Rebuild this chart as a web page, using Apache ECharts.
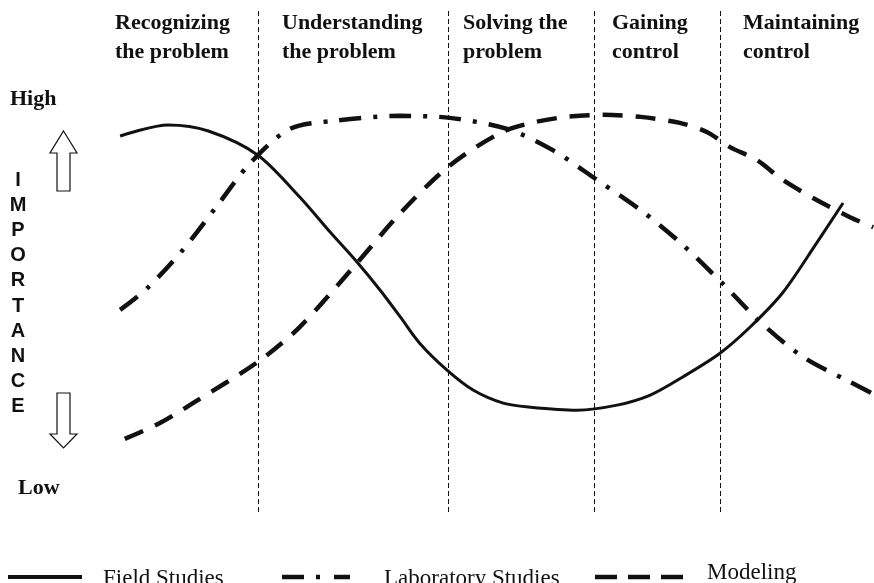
<!DOCTYPE html>
<html>
<head>
<meta charset="utf-8">
<script src="https://cdn.jsdelivr.net/npm/echarts@6/dist/echarts.min.js"></script>
<style>
  html, body { margin: 0; padding: 0; background: #fff; }
  #chart { width: 874px; height: 583px; }
</style>
</head>
<body>
<div id="chart"></div>
<script>
// x: position across the problem stages (0-100), y: importance (0-100)
const fieldX = [2.6, 8.8, 14.0, 20.4, 25.8, 29.7, 33.2, 36.2, 38.8, 41.3, 44.8, 48.2, 52.1, 55.6, 61.6, 66.8, 71.1, 75.3, 80.1, 84.0, 88.2, 92.6, 96.0];
const fieldY = [74.6, 76.8, 75.6, 70.8, 62.5, 55.6, 49.6, 44.0, 38.7, 33.5, 28.2, 24.2, 21.6, 20.8, 20.2, 21.2, 23.2, 26.8, 31.5, 36.7, 43.5, 53.4, 61.3];

const labX = [2.6, 6.1, 10.7, 15.1, 19.4, 24.5, 30.1, 38.8, 45.2, 52.6, 58.5, 64.2, 70.2, 75.3, 80.4, 85.3, 90.8, 96.9, 99.7];
const labY = [40.1, 44.4, 52.0, 60.7, 69.2, 76.0, 77.6, 78.6, 78.2, 76.0, 71.8, 65.9, 59.5, 53.0, 45.4, 37.7, 30.8, 25.8, 23.6];

const modelX = [3.2, 7.8, 12.0, 20.4, 25.8, 33.2, 38.8, 45.0, 51.7, 56.0, 60.3, 65.0, 69.8, 74.9, 78.4, 81.4, 84.9, 88.2, 92.6, 96.9, 99.9];
const modelY = [14.5, 17.7, 21.6, 29.8, 36.7, 49.4, 59.3, 68.5, 75.2, 77.3, 78.4, 78.8, 78.4, 77.2, 75.4, 72.4, 69.8, 65.9, 61.9, 58.5, 56.5];

const stageBounds = [20.4, 45.0, 63.8, 80.1];
const stageNames = ['Recognizing\nthe problem', 'Understanding\nthe problem', 'Solving the\nproblem', 'Gaining\ncontrol', 'Maintaining\ncontrol'];
const seriesNames = ['Field Studies', 'Laboratory Studies', 'Modeling'];

const serif = '"Liberation Serif", "Times New Roman", serif';
const sans = '"Liberation Sans", Arial, sans-serif';
const ink = '#111';

const solidStyle = { color: ink, width: 3 };
const dashDotStyle = { color: ink, width: 4.5, type: [22, 12, 4, 12] };
const dashStyle = { color: ink, width: 4.5, type: [20, 13] };

function pairs(xs, ys) {
  return xs.map((x, i) => [x, ys[i]]);
}

var myChart = echarts.init(document.getElementById('chart'), null, { renderer: 'canvas' });

const headerLeft = [115, 282, 463, 612, 743];

// legend drawn by hand: line sample + label
const legendItems = [
  { x1: 8, x2: 82, dash: null, width: 4, textX: 103, textY: 567 },
  { x1: 282, x2: 350, dash: [22, 12, 4, 14], width: 4.5, textX: 384, textY: 567 },
  { x1: 595, x2: 683, dash: [22, 11], width: 4.5, textX: 707, textY: 561 }
];

const legendGraphics = [];
legendItems.forEach((it, i) => {
  legendGraphics.push({
    type: 'line', silent: true,
    shape: { x1: it.x1, y1: 577, x2: it.x2, y2: 577 },
    style: { stroke: ink, lineWidth: it.width, lineDash: it.dash || null }
  });
  legendGraphics.push({
    type: 'text', left: it.textX, top: it.textY, silent: true,
    style: { text: seriesNames[i], font: '23px ' + serif, fill: ink }
  });
});

const option = {
  backgroundColor: '#fff',
  animation: false,
  grid: { left: 100, right: 0, top: 8, bottom: 71 },
  xAxis: { type: 'value', min: 0, max: 100, show: false },
  yAxis: { type: 'value', min: 0, max: 100, show: false },
  graphic: [
    ...stageNames.map((t, i) => ({
      type: 'text', left: headerLeft[i], top: 9, silent: true,
      style: { text: t, font: 'bold 22px ' + serif, lineHeight: 29, fill: ink }
    })),
    { type: 'text', left: 10, top: 88, style: { text: 'High', font: 'bold 22px ' + serif, fill: ink } },
    { type: 'text', left: 18, top: 477, style: { text: 'Low', font: 'bold 22px ' + serif, fill: ink } },
    {
      type: 'text', x: 18, y: 168,
      style: { text: 'IMPORTANCE'.split('').join('\n'), font: 'bold 20px ' + sans, lineHeight: 25.1, align: 'center', fill: ink }
    },
    {
      type: 'polygon',
      shape: { points: [[63.5, 131], [77, 153], [70, 153], [70, 191], [57, 191], [57, 153], [50, 153]] },
      style: { fill: '#fff', stroke: ink, lineWidth: 1.2 }
    },
    {
      type: 'polygon',
      shape: { points: [[57, 393], [70, 393], [70, 434], [77, 434], [63.5, 448], [50, 434], [57, 434]] },
      style: { fill: '#fff', stroke: ink, lineWidth: 1.2 }
    },
    ...legendGraphics
  ],
  series: [
    {
      name: seriesNames[0],
      type: 'line',
      data: pairs(fieldX, fieldY),
      smooth: 0.3,
      symbol: 'none',
      lineStyle: solidStyle,
      markLine: {
        silent: true,
        symbol: 'none',
        label: { show: false },
        lineStyle: { color: ink, width: 1, type: [5, 3] },
        data: stageBounds.map(b => ({ xAxis: b }))
      },
      z: 3
    },
    {
      name: seriesNames[1],
      type: 'line',
      data: pairs(labX, labY),
      smooth: 0.3,
      symbol: 'none',
      lineStyle: dashDotStyle,
      z: 2
    },
    {
      name: seriesNames[2],
      type: 'line',
      data: pairs(modelX, modelY),
      smooth: 0.3,
      symbol: 'none',
      lineStyle: dashStyle,
      z: 2
    }
  ]
};

myChart.setOption(option);
</script>
</body>
</html>
